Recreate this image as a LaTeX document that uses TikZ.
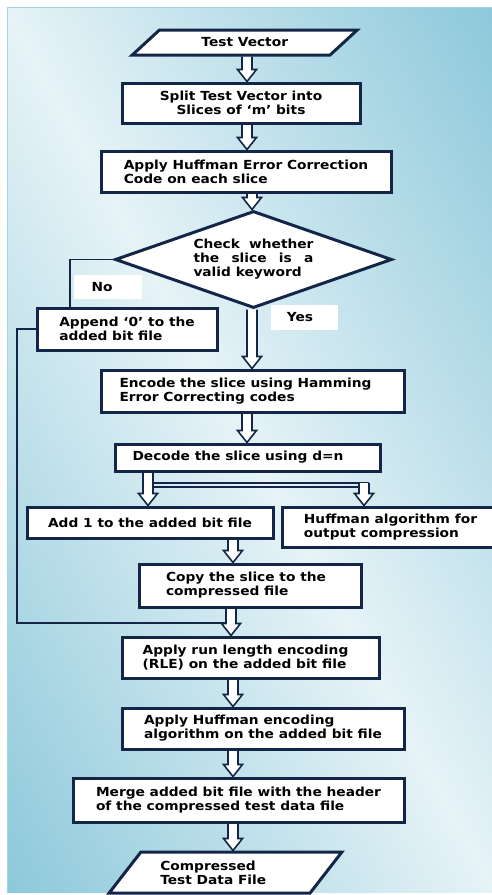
\documentclass[tikz,border=0pt]{standalone}
\usepackage{fontspec}
\setmainfont{DejaVu Sans}[FakeStretch=1.1]
\usetikzlibrary{shapes.geometric,calc}
\definecolor{navy}{RGB}{20,38,72}
\definecolor{bgdark}{RGB}{140,200,218}
\definecolor{bglight}{RGB}{230,243,247}
\definecolor{bgedge}{RGB}{165,212,226}
\pgfdeclarelayer{bg}
\pgfdeclarelayer{arrowlayer}
\pgfsetlayers{bg,arrowlayer,main}
\begin{document}
\begin{tikzpicture}[x=1pt,y=-1pt,
  font=\fontsize{12.5}{14}\selectfont\bfseries,
  box/.style={draw=navy, fill=white, line width=3pt, inner sep=0pt, align=left},
  para/.style={draw=navy, fill=white, line width=3pt, inner sep=0pt, align=left,
    trapezium, trapezium stretches=true},
  dia/.style={draw=navy, fill=white, line width=3pt, inner sep=0pt, align=left,
    diamond, aspect=2.85},
  lbl/.style={fill=white, inner sep=0pt},
  conn/.style={draw=navy, line width=1.8pt},
  pipe/.style={draw=navy, line width=1.3pt},
  barrow/.style={draw=navy, fill=white, line width=1.6pt, line join=miter,
    to path={let \p1=(\tikztostart), \p2=(\tikztotarget) in
      (\x1-5pt,\y1) -- (\x1-5pt,\y2+12pt) -- (\x1-9.5pt,\y2+12pt) -- (\x1,\y2)
      -- (\x1+9.5pt,\y2+12pt) -- (\x1+5pt,\y2+12pt) -- (\x1+5pt,\y1)}}]
\useasboundingbox (0,0) rectangle (492,895);
\begin{pgfonlayer}{bg}
\fill[white] (0,0) rectangle (492,895);
\begin{scope}
\clip (7,7) rectangle (492,892);
\shade[top color=bgdark, bottom color=bgdark, middle color=bglight,
  transform canvas={rotate around={-61:(249.5,449.5)}}]
  (-350.5,19.5) rectangle (849.5,879.5);
\end{scope}
\draw[bgedge, line width=1pt] (492,7) -- (7,7) -- (7,892);
\end{pgfonlayer}

% nodes
\node[para, trapezium left angle=34, trapezium right angle=146,
  minimum width=225, minimum height=25] (tv) at (244.75,42.5) {Test Vector};
\node[box, align=center, minimum width=238, minimum height=40] (split) at (241,103)
  {Split Test Vector into\\Slices of ‘m’ bits};
\node[box, minimum width=290, minimum height=41] (huff1) at (246,171.5)
  {Apply Huffman Error Correction\\Code on each slice};
\node[dia, minimum width=277, minimum height=97] (dia) at (253.5,259.5)
  {\makebox[120pt][s]{Check whether}\\\makebox[120pt][s]{the slice is a}\\valid keyword};
\node[lbl, minimum width=68, minimum height=24] (no) at (108,287) {No\hspace*{12pt}};
\node[lbl, minimum width=67, minimum height=25] (yes) at (304.5,317.5) {Yes\hspace*{9pt}};
\node[box, minimum width=180, minimum height=42] (append) at (127,329)
  {Append ‘0’ to the\\added bit file};
\node[box, minimum width=303, minimum height=42] (encode) at (252.5,391)
  {Encode the slice using Hamming\hspace*{14pt}\\Error Correcting codes};
\node[box, minimum width=265, minimum height=27] (decode) at (247.5,457.5)
  {Decode the slice using d=n\hspace*{19pt}};
\node[box, align=center, minimum width=246, minimum height=31] (add) at (150,522.5)
  {Add 1 to the added bit file};
\node[box, minimum width=228, minimum height=40] (huffout) at (396,527)
  {Huffman algorithm for\hspace*{11pt}\\output compression};
\node[box, minimum width=222, minimum height=43] (copy) at (250,585.5)
  {Copy the slice to the\hspace*{8pt}\\compressed file};
\node[box, minimum width=257, minimum height=41] (rle) at (250.5,657.5)
  {Apply run length encoding\\(RLE) on the added bit file\hspace*{12pt}};
\node[box, minimum width=282, minimum height=41] (huffenc) at (263,728.5)
  {Apply Huffman encoding\\algorithm on the added bit file};
\node[box, minimum width=331, minimum height=44] (merge) at (238.5,800)
  {Merge added bit file with the header\\of the compressed test data file};
\node[para, trapezium left angle=44, trapezium right angle=136,
  minimum width=233, minimum height=41] (out) at (225.5,872.5)
  {Compressed\hspace*{35pt}\\Test Data File};

% connector coordinates
\coordinate (c247) at (247,0);
\coordinate (c252) at (252,0);
\coordinate (c148) at (148,0);
\coordinate (c233) at (233,0);
\coordinate (c231) at (231,0);
\coordinate (nox) at (70,0);
\coordinate (lc) at (17,623);
\coordinate (le) at (226,623);
\coordinate (pTL) at (153,483);
\coordinate (pTR) at (369,483);
\coordinate (pBL) at (153,487);
\coordinate (pBR) at (359,487);
\coordinate (brtop) at (364,483);

\begin{pgfonlayer}{arrowlayer}
\draw[barrow] (tv.south -| c247) to (split.north -| c247);
\draw[barrow] (split.south -| c247) to (huff1.north -| c247);
\draw[barrow] (huff1.south -| c252) to (dia.north -| c252);
\draw[barrow] (dia.south -| c252) to (encode.north -| c252);
\draw[barrow] (encode.south -| c247) to (decode.north -| c247);
\draw[barrow] (decode.south -| c148) to (add.north -| c148);
\draw[pipe] (pTL) -- (pTR);
\draw[pipe] (pBL) -- (pBR);
\draw[barrow] (brtop) to (huffout.north -| brtop);
\draw[barrow] (add.south -| c233) to (copy.north -| c233);
\draw[barrow] (copy.south -| c231) to (rle.north -| c231);
\draw[barrow] (rle.south -| c233) to (huffenc.north -| c233);
\draw[barrow] (huffenc.south -| c233) to (merge.north -| c233);
\draw[barrow] (merge.south -| c233) to (out.north -| c233);
\draw[conn] (dia.west) -| (append.north -| nox);
\draw[conn] (append.west) -| (lc) -- (le);
\end{pgfonlayer}
\end{tikzpicture}
\end{document}
